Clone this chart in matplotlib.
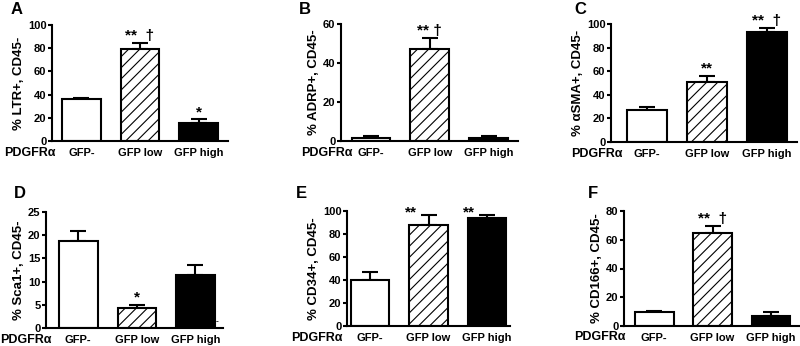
import matplotlib.pyplot as plt

plt.rcParams['font.family'] = ['Liberation Sans', 'DejaVu Sans']
plt.rcParams['font.weight'] = 'bold'
plt.rcParams['hatch.linewidth'] = 0.8

W, H = 800, 346

groups = ['GFP-', 'GFP low', 'GFP high']

# per-panel values (mean, upper SEM)
ltr_mean = [36.2, 79.6, 15.8]
ltr_err = [1.2, 5.2, 2.9]
adrp_mean = [1.4, 47.3, 1.5]
adrp_err = [1.0, 5.7, 0.9]
sma_mean = [27.1, 50.8, 92.9]
sma_err = [2.3, 5.4, 3.4]
sca1_mean = [18.8, 4.3, 11.5]
sca1_err = [2.0, 0.7, 2.1]
cd34_mean = [40.3, 87.9, 94.2]
cd34_err = [7.0, 8.3, 2.0]
cd166_mean = [9.5, 64.9, 7.0]
cd166_err = [1.2, 4.9, 3.0]

ltr_sig = ['', '**  \u2020', '*']
adrp_sig = ['', '** \u2020', '']
sma_sig = ['', '**', '**  \u2020']
sca1_sig = ['', '*', '']
cd34_sig = ['', '**', '**']
cd166_sig = ['', '**  \u2020', '']

ylabels = ['% LTR+, CD45-', '% ADRP+, CD45-', '% \u03b1SMA+, CD45-',
           '% Sca1+, CD45-', '% CD34+, CD45-', '% CD166+, CD45-']

faces = ['white', 'white', 'black']
hatches = [None, '///', None]

# panel: letter, means, errs, sigs, ylabel, ymax, ystep,
#        box in px (left, right, top, bottom), xlim, letter pos, PDGFR pos
panels = [
    ('A', ltr_mean, ltr_err, ltr_sig, ylabels[0], 100, 20,
     (52, 228, 25, 141), (-0.5, 2.5), (11, 9), (4, 153), False),
    ('B', adrp_mean, adrp_err, adrp_sig, ylabels[1], 60, 20,
     (341, 518, 24, 141), (-0.51, 2.5), (299, 9), (301, 153), False),
    ('C', sma_mean, sma_err, sma_sig, ylabels[2], 100, 20,
     (611, 797, 24, 142), (-0.6, 2.5), (574, 9), (571, 154), False),
    ('D', sca1_mean, sca1_err, sca1_sig, ylabels[3], 25, 5,
     (46, 223, 212, 328), (-0.55, 2.47), (14, 194), (0, 340), False),
    ('E', cd34_mean, cd34_err, cd34_sig, ylabels[4], 100, 20,
     (347, 510, 211, 326), (-0.4, 2.4), (296, 194), (291, 338), True),
    ('F', cd166_mean, cd166_err, cd166_sig, ylabels[5], 80, 20,
     (624, 800, 211, 326), (-0.52, 2.5), (588, 194), (574, 337), False),
]

fig = plt.figure(figsize=(W / 100, H / 100), dpi=100)

for (letter, means, errs, sigs, ylab, ymax, ystep, box, xlim,
     lpos, ppos, left_stars) in panels:
    l, r, t, b = box
    ax = fig.add_axes([l / W, 1 - b / H, (r - l) / W, (b - t) / H])
    x = list(range(len(groups)))
    for i in x:
        ax.bar(i, means[i], width=0.66, color=faces[i], edgecolor='black',
               linewidth=1.5, hatch=hatches[i], zorder=2)
    ax.errorbar(x, means, yerr=[[0] * 3, errs], fmt='none', ecolor='black',
                elinewidth=1.5, capsize=6, capthick=1.5, zorder=1)
    for i in x:
        if not sigs[i]:
            continue
        top = means[i] + errs[i]
        if left_stars:
            ax.annotate(sigs[i], (i - 0.3, top), xytext=(0, -3),
                        textcoords='offset points', ha='center', va='bottom',
                        fontsize=11, annotation_clip=False)
        else:
            ax.annotate(sigs[i], (i, top), xytext=(0, 0),
                        textcoords='offset points', ha='center', va='bottom',
                        fontsize=11, annotation_clip=False)
    ax.set_xlim(*xlim)
    ax.set_ylim(0, ymax)
    ax.set_yticks(range(0, ymax + 1, ystep))
    ax.set_xticks(x)
    ax.set_xticklabels(groups, fontsize=8, fontweight='bold')
    ax.tick_params(axis='x', length=0, pad=5)
    ax.tick_params(axis='y', length=3, width=1.5, pad=1, labelsize=8)
    for lab in ax.get_yticklabels():
        lab.set_fontweight('bold')
    ax.set_ylabel(ylab, fontsize=9.5, fontweight='bold', labelpad=2)
    ax.spines[['top', 'right']].set_visible(False)
    ax.spines[['left', 'bottom']].set_linewidth(1.5)
    ax.set_facecolor('none')

    fig.text(lpos[0] / W, 1 - lpos[1] / H, letter, fontsize=12,
             fontweight='bold', ha='left', va='center')
    fig.text(ppos[0] / W, 1 - ppos[1] / H, 'PDGFR\u03b1', fontsize=9,
             fontweight='bold', ha='left', va='center')

# small stray dash under panel D
fig.text(217 / W, 1 - 322 / H, '-', fontsize=6, ha='center', va='center')

fig.savefig('out.png', dpi=100)
